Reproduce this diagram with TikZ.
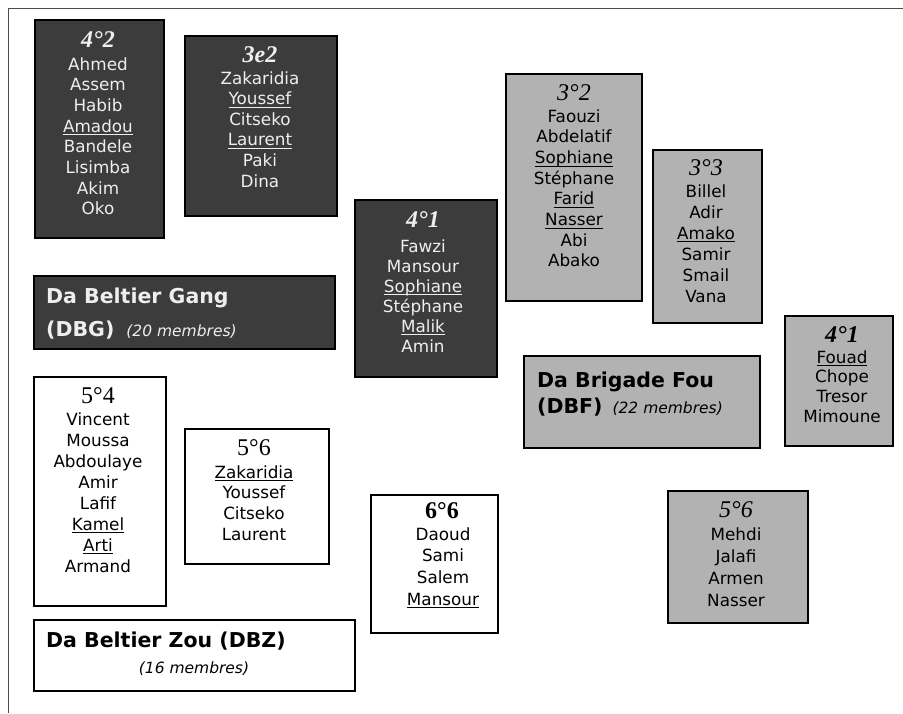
\documentclass[tikz,border=0pt]{standalone}
\usepackage{fontspec}
\setmainfont{DejaVu Sans}
\newfontfamily\serifT{Liberation Serif}
\definecolor{darkfill}{HTML}{3C3C3C}
\definecolor{grayfill}{HTML}{B2B2B2}
\definecolor{darktext}{HTML}{EEEEEE}
\newcommand\ulname[1]{\setbox0=\hbox{#1}\rlap{\rule[-3.2pt]{\wd0}{1.1pt}}\box0}
\newcommand\namelist[5][]{%
  \foreach \nm [count=\i from 0] in {#5} {
    \node[nm,#1] (#2-\i) at (#3) [yshift=-\i*#4 pt] {\nm};
  }%
}
\tikzset{
  box/.style={draw=black, line width=1.5pt, inner sep=0pt, anchor=north west},
  darkbox/.style={box, fill=darkfill},
  graybox/.style={box, fill=grayfill},
  whitebox/.style={box, fill=white},
  nm/.style={font=\fontsize{16.8}{20}\selectfont, anchor=base, inner sep=0pt},
  ttl/.style={anchor=base, inner sep=0pt},
  ttlbi/.style={ttl, font=\serifT\bfseries\itshape\fontsize{24}{24}\selectfont},
  ttli/.style={ttl, font=\serifT\itshape\fontsize{24}{24}\selectfont},
  ttlr/.style={ttl, font=\serifT\fontsize{24}{24}\selectfont},
  ttlb/.style={ttl, font=\serifT\bfseries\fontsize{24}{24}\selectfont},
  head/.style={anchor=base west, inner sep=0pt, font=\bfseries\fontsize{20.5}{20}\selectfont},
  memb/.style={inner sep=0pt, font=\itshape\fontsize{15.5}{15}\selectfont},
  lite/.style={text=darktext},
}
\begin{document}
\begin{tikzpicture}[x=1pt,y=-1pt]
\useasboundingbox (0,0) rectangle (903,713);
\fill[white] (0,0) rectangle (903,713);
\coordinate (fa) at (8,713);
\coordinate (fb) at (8,8);
\coordinate (fc) at (903,8);
\draw[line width=1pt, black!70] (fa) -- (fb) -- (fc);

% 4e2
\node[darkbox, minimum width=129pt, minimum height=218pt] (b42) at (34,19) {};
\node[ttlbi, lite] (t42) at (98,47) {4°2};
\namelist[lite]{n42}{98,70}{20.7}{Ahmed, Assem, Habib, \ulname{Amadou}, Bandele, Lisimba, Akim, Oko}

% 3e2
\node[darkbox, minimum width=152pt, minimum height=180pt] (b3e2) at (184,35) {};
\node[ttlbi, lite] (t3e2) at (260,62) {3e2};
\namelist[lite]{n3e2}{260,84}{20.6}{Zakaridia, \ulname{Youssef}, Citseko, \ulname{Laurent}, Paki, Dina}

% 4e1 dark
\node[darkbox, minimum width=142pt, minimum height=177pt] (b41) at (354,199) {};
\node[ttlbi, lite] (t41) at (423,227) {4°1};
\namelist[lite]{n41}{423,252}{20}{Fawzi, Mansour, \ulname{Sophiane}, Stéphane, \ulname{Malik}, Amin}

% Da Beltier Gang
\node[darkbox, minimum width=301pt, minimum height=73pt] (bdbg) at (33,275) {};
\node[head, lite] (hdbg1) at (46,303) {Da Beltier Gang};
\node[head, lite] (hdbg2) at (46,336) {(DBG)\hspace{12pt}{\mdseries\itshape\fontsize{15.5}{15}\selectfont (20 membres)}};

% 3e2 gray
\node[graybox, minimum width=136pt, minimum height=227pt] (b32) at (505,73) {};
\node[ttli] (t32) at (574,100) {3°2};
\namelist{n32}{574,122}{20.7}{Faouzi, Abdelatif, \ulname{Sophiane}, Stéphane, \ulname{Farid}, \ulname{Nasser}, Abi, Abako}

% 3e3 gray
\node[graybox, minimum width=109pt, minimum height=173pt] (b33) at (652,149) {};
\node[ttli] (t33) at (706,175) {3°3};
\namelist{n33}{706,197}{21}{Billel, Adir, \ulname{Amako}, Samir, Smail, Vana}

% 4e1 gray
\node[graybox, minimum width=108pt, minimum height=130pt] (b41r) at (784,315) {};
\node[ttlbi] (t41r) at (842,342) {4°1};
\namelist{n41r}{842,363}{19.7}{\ulname{Fouad}, Chope, Tresor, Mimoune}

% Da Brigade Fou
\node[graybox, minimum width=236pt, minimum height=92pt] (bdbf) at (523,355) {};
\node[head] (hdbf1) at (537,387) {Da Brigade Fou};
\node[head] (hdbf2) at (537,413) {(DBF)\hspace{10pt}{\mdseries\itshape\fontsize{15.5}{15}\selectfont (22 membres)}};

% 5e6 gray
\node[graybox, minimum width=140pt, minimum height=132pt] (b56r) at (667,490) {};
\node[ttli] (t56r) at (736,517) {5°6};
\namelist{n56r}{736,540}{22.3}{Mehdi, Jalafi, Armen, Nasser}

% 5e4 white
\node[whitebox, minimum width=132pt, minimum height=229pt] (b54) at (33,376) {};
\node[ttlr] (t54) at (98,403) {5°4};
\namelist{n54}{98,425}{21}{Vincent, Moussa, Abdoulaye, Amir, Lafif, \ulname{Kamel}, \ulname{Arti}, Armand}

% 5e6 white
\node[whitebox, minimum width=144pt, minimum height=135pt] (b56) at (184,428) {};
\node[ttlr] (t56) at (254,455) {5°6};
\namelist{n56}{254,478}{20.7}{\ulname{Zakaridia}, Youssef, Citseko, Laurent}

% 6e6 white
\node[whitebox, minimum width=127pt, minimum height=138pt] (b66) at (370,494) {};
\node[ttlb] (t66) at (442,518) {6°6};
\namelist{n66}{443,540}{21.7}{Daoud, Sami, Salem, \ulname{Mansour}}

% Da Beltier Zou
\node[whitebox, minimum width=321pt, minimum height=71pt] (bdbz) at (33,619) {};
\node[head] (hdbz1) at (46,647) {Da Beltier Zou (DBZ)};
\node[memb, anchor=base] (hdbz2) at (194,673) {(16 membres)};
\end{tikzpicture}
\end{document}
